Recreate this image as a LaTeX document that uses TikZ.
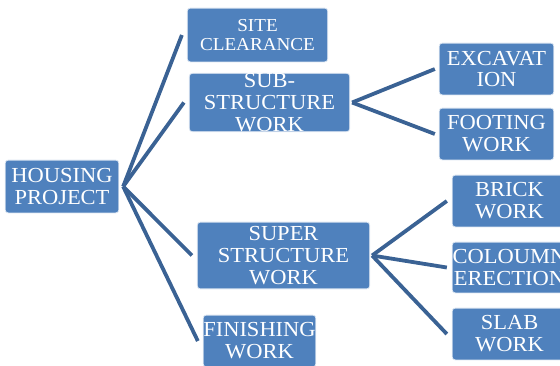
\documentclass[tikz,border=0pt]{standalone}
\usepackage{fontspec}
\setmainfont{Liberation Serif}[FakeStretch=1.05]
\usepackage{xcolor}
\definecolor{boxblue}{RGB}{79,129,189}
\definecolor{linkblue}{RGB}{58,98,148}
\tikzset{
  box/.style={draw=white!80!boxblue,line width=0.8pt,fill=boxblue,rounded corners=3pt,
    text=white,align=center,inner sep=0pt,font=\fontsize{21.5}{22}\selectfont},
  link/.style={draw=linkblue,line width=3.8pt}
}

\begin{document}
\begin{tikzpicture}[x=1bp,y=-1bp]
\useasboundingbox (0,0) rectangle (560,365);
\node[box,minimum width=114,minimum height=53] (hp) at (62,186.5) {HOUSING\\PROJECT};
\node[box,minimum width=141,minimum height=54,font=\fontsize{18.3}{19}\selectfont] (sc) at (257.5,35) {SITE\\CLEARANCE};
\node[box,minimum width=161,minimum height=51] (sub) at (269.5,102.5) {SUB-\\STRUCTURE\\WORK};
\node[box,minimum width=173,minimum height=67] (sup) at (283.5,255.5) {SUPER\\STRUCTURE\\WORK};
\node[box,minimum width=113,minimum height=52] (fin) at (259.5,341) {FINISHING\\WORK};
\node[box,minimum width=115,minimum height=52] (exc) at (496.5,69) {EXCAVAT\\ION};
\node[box,minimum width=115,minimum height=52] (foot) at (496.5,134) {FOOTING\\WORK};
\node[box,minimum width=115,minimum height=52] (brick) at (509.5,201) {BRICK\\WORK};
\node[box,minimum width=115,minimum height=51] (col) at (509.5,267.5) {COLOUMN\\ERECTION};
\node[box,minimum width=115,minimum height=52] (slab) at (509.5,334) {SLAB\\WORK};
\foreach \c in {sc,sub,sup,fin} {
  \draw[link] ([xshift=4pt]hp.east) -- ([xshift=-5pt]\c.west);
}
\foreach \c in {exc,foot} {
  \draw[link] ([xshift=2pt]sub.east) -- ([xshift=-4pt]\c.west);
}
\foreach \c in {brick,col,slab} {
  \draw[link] ([xshift=2pt]sup.east) -- ([xshift=-5pt]\c.west);
}
\end{tikzpicture}
\end{document}
